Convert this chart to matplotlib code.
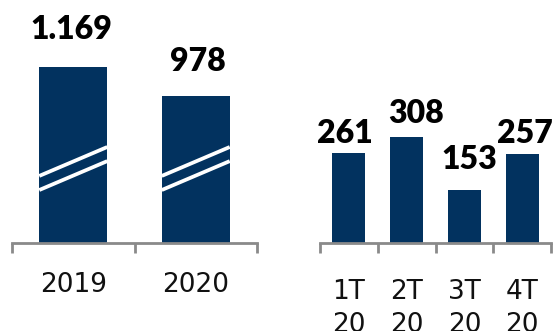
import matplotlib
matplotlib.use("Agg")
import matplotlib.pyplot as plt

years = ["2019", "2020"]
year_values = [1169, 978]
year_labels = ["1.169", "978"]

quarters = ["1T\n20", "2T\n20", "3T\n20", "4T\n20"]
quarter_values = [261, 308, 153, 257]
quarter_labels = ["261", "308", "153", "257"]

navy = "#02325f"
gray = "#8a8a8a"
W, H = 558, 331

fig = plt.figure(figsize=(W / 100, H / 100), dpi=100)


def setup_axes(ax, n, labels, pad, **kw):
    for s in ["left", "right", "top"]:
        ax.spines[s].set_visible(False)
    ax.spines["bottom"].set_color(gray)
    ax.spines["bottom"].set_linewidth(2)
    ax.set_yticks([])
    ax.set_xlim(-0.5, n - 0.5)
    ax.set_xticks([i - 0.5 for i in range(n + 1)])
    ax.set_xticklabels([])
    ax.tick_params(axis="x", which="major", length=7, width=2, color=gray, direction="out")
    ax.set_xticks(range(n), minor=True)
    ax.set_xticklabels(labels, minor=True, fontsize=19, family="DejaVu Sans",
                       color="#111111", **kw)
    ax.tick_params(axis="x", which="minor", length=0, pad=pad)


# left panel: yearly totals
ax1 = fig.add_axes([12 / W, (H - 243) / H, 245 / W, 243 / H])
setup_axes(ax1, 2, years, 21)
ax1.set_ylim(0, 243 / 0.1505)
ax1.bar(range(2), year_values, width=0.555, color=navy, zorder=1)

# break marks on the yearly bars
for i in range(2):
    for y0, y1 in [(0.276, 0.395), (0.218, 0.337)]:
        ax1.plot([i - 0.2775, i + 0.2775], [y0, y1], color="white", lw=2.7,
                 solid_capstyle="butt", transform=ax1.get_xaxis_transform(), zorder=2)

year_offsets = [(-2, 23), (2, 20)]
for i, (v, t) in enumerate(zip(year_values, year_labels)):
    ax1.annotate(t, (i, v), xytext=year_offsets[i], textcoords="offset pixels",
                 ha="center", va="bottom", fontsize=23, fontweight="heavy",
                 family="Lato", color="black")

# right panel: quarters
ax2 = fig.add_axes([320 / W, (H - 243) / H, 231 / W, 243 / H])
setup_axes(ax2, 4, quarters, 26, linespacing=1.35)
ax2.set_ylim(0, 243 / 0.345)
ax2.bar(range(4), quarter_values, width=0.57, color=navy)

quarter_offsets = [(-4, 5), (9, 9), (5, 16), (3, 6)]
for i, (v, t) in enumerate(zip(quarter_values, quarter_labels)):
    ax2.annotate(t, (i, v), xytext=quarter_offsets[i], textcoords="offset pixels",
                 ha="center", va="bottom", fontsize=23, fontweight="heavy",
                 family="Lato", color="black")

fig.savefig("out.png", dpi=100)
